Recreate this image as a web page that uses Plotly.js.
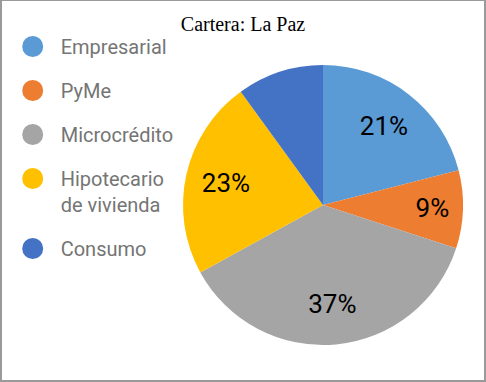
<!DOCTYPE html>
<html>
<head>
<meta charset="utf-8">
<script src="https://cdn.plot.ly/plotly-3.0.1.min.js"></script>
<style>
  html, body { margin: 0; padding: 0; background: #fff; }
  #wrap { position: relative; width: 486px; height: 382px; }
  #chart { width: 486px; height: 382px; }
  #frame { position: absolute; left: 0; top: 0; width: 486px; height: 382px; box-sizing: border-box; border: 2px solid #9a9a9a; border-top-width: 1px; pointer-events: none; }
</style>
</head>
<body>
<div id="wrap"><div id="chart"></div><div id="frame"></div></div>
<script>
const categories = ["Empresarial", "PyMe", "Microcrédito", "Hipotecario<br>de vivienda", "Consumo"];
const values = [21, 9, 37, 23, 10];
const showLabel = [true, true, true, true, false];
const colors = ["#5b9bd5", "#ed7d31", "#a5a5a5", "#ffc000", "#4472c4"];
const chartTitle = "Cartera: La Paz";

const textTemplates = showLabel.map(s => s ? "%{percent:.0%}" : "");
const pieDomain = { x: [183/486, 463/486], y: [1 - 345/382, 1 - 65/382] };

const pie = {
  type: "pie",
  values: values,
  labels: categories,
  marker: { colors: colors, line: { width: 0 } },
  sort: false,
  direction: "clockwise",
  rotation: 0,
  textinfo: "none",
  hoverinfo: "label+percent",
  showlegend: false,
  domain: pieDomain
};

// transparent ring carrying the percentage labels (placed further out like the reference)
const pieLabels = {
  type: "pie",
  values: values,
  labels: categories,
  marker: { colors: colors.map(() => "rgba(0,0,0,0)"), line: { width: 0 } },
  hole: 0.42,
  sort: false,
  direction: "clockwise",
  rotation: 0,
  texttemplate: textTemplates,
  textposition: "inside",
  insidetextorientation: "horizontal",
  textfont: { family: "Roboto", size: 26, color: "#000" },
  hoverinfo: "skip",
  showlegend: false,
  domain: pieDomain
};

const legendTraces = categories.map((c, i) => ({
  type: "scatter",
  mode: "markers",
  x: [null], y: [null],
  name: c,
  legendgroup: "g" + i,
  marker: { color: colors[i], size: 16, symbol: "circle", line: { color: colors[i], width: 5 } },
  showlegend: true,
  hoverinfo: "skip"
}));

const layout = {
  width: 486, height: 382,
  margin: { l: 0, r: 0, t: 0, b: 0 },
  paper_bgcolor: "#fff", plot_bgcolor: "rgba(0,0,0,0)",
  title: { text: chartTitle, font: { family: "Liberation Serif, Times New Roman, serif", size: 20, color: "#000" },
           x: 0.5, xanchor: "center", y: 1 - 24/382, yanchor: "middle", yref: "container" },
  xaxis: { visible: false }, yaxis: { visible: false },
  showlegend: true,
  legend: {
    x: 4.7/486, y: 1 - 27/382, xanchor: "left", yanchor: "top",
    font: { family: "Roboto", size: 20, color: "#757575" },
    traceorder: "grouped", tracegroupgap: 15, valign: "top",
    itemwidth: 46,
    itemsizing: "trace", bgcolor: "rgba(0,0,0,0)"
  }
};

Plotly.newPlot("chart", [pie, pieLabels].concat(legendTraces), layout, { displayModeBar: false, staticPlot: true });
</script>
</body>
</html>
